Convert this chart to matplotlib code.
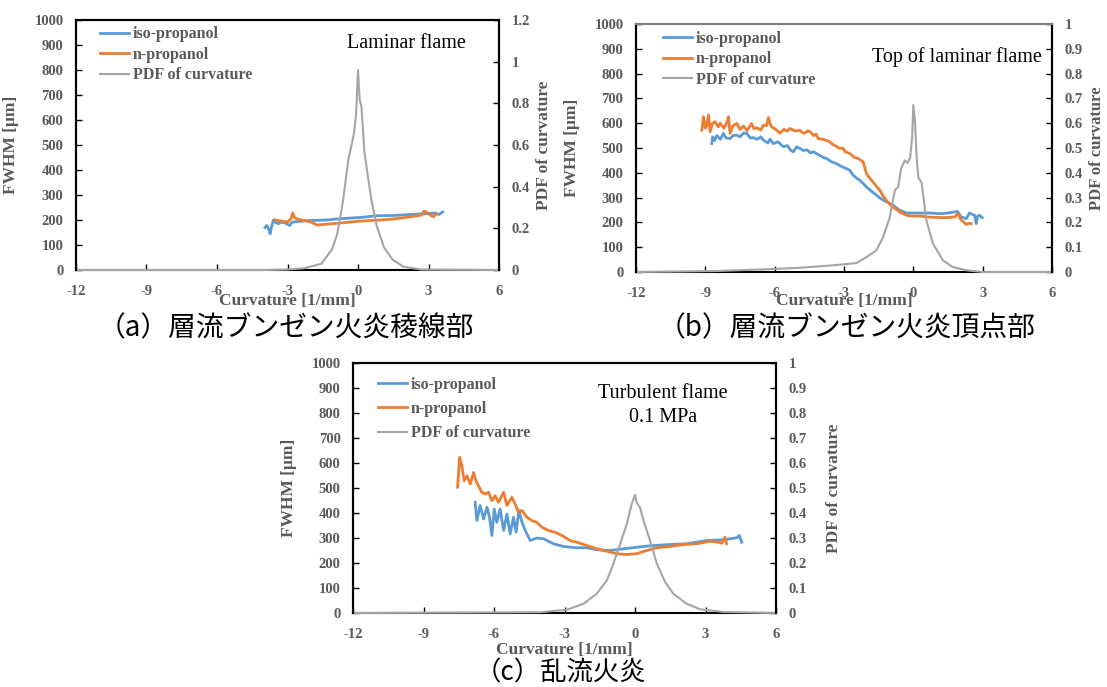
import matplotlib
matplotlib.use('Agg')
import matplotlib.pyplot as plt
from matplotlib.ticker import FuncFormatter

plt.rcParams['axes.unicode_minus'] = False

BLUE = '#5B9BD5'
ORANGE = '#ED7D31'
GRAY = '#A5A5A5'
TXT = '#595959'
SERIF = 'Liberation Serif'
JP = 'Noto Sans CJK JP'

# ---- (a) 層流ブンゼン火炎稜線部 ----
a_iso_x = [-3.96, -3.88, -3.80, -3.74, -3.66, -3.60, -3.50, -3.39, -3.25, -3.10, -3.03, -2.90,
           -2.82, -2.75, -2.47, -2.0, -1.33, -0.8, 0.09, 0.8, 1.50, 2.2, 2.92, 3.3, 3.45, 3.60]
a_iso_y = [170, 178, 165, 145, 180, 200, 190, 185, 192, 188, 184, 178, 190, 192, 195, 198, 200,
           205, 210, 217, 218, 222, 225, 228, 222, 232]
a_np_x = [-3.53, -3.4, -3.2, -3.0, -2.85, -2.78, -2.7, -2.6, -2.4, -2.2, -2.0, -1.75, -1.5, -1.0,
          -0.5, 0.0, 0.5, 1.0, 1.5, 2.0, 2.4, 2.7, 2.8, 2.9, 3.0, 3.1, 3.2, 3.35]
a_np_y = [200, 198, 195, 192, 205, 228, 210, 205, 200, 196, 192, 180, 182, 186, 190, 195, 198,
          200, 204, 210, 215, 220, 235, 232, 225, 218, 213, 225]
a_pdf_x = [-12, -4, -3.1, -2.3, -1.56, -1.1, -0.88, -0.64, -0.41, -0.18, -0.08, 0.0, 0.07, 0.15,
           0.27, 0.42, 0.58, 0.8, 1.1, 1.47, 1.93, 2.7, 6]
a_pdf_y = [0, 0, 0.002, 0.008, 0.03, 0.10, 0.175, 0.33, 0.53, 0.65, 0.75, 0.96, 0.82, 0.78, 0.57,
           0.45, 0.33, 0.21, 0.11, 0.05, 0.016, 0.002, 0]

# ---- (b) 層流ブンゼン火炎頂点部 ----
b_np_x = [-9.15, -9.08, -9.0, -8.94, -8.86, -8.79, -8.7, -8.58, -8.45, -8.36, -8.2, -8.05, -8.0,
          -7.93, -7.8, -7.64, -7.5, -7.35, -7.2, -7.0, -6.9, -6.78, -6.6, -6.49, -6.35, -6.27,
          -6.2, -6.13, -5.95, -5.77, -5.6, -5.45, -5.34, -5.2, -5.1, -4.91, -4.8, -4.7, -4.55,
          -4.47, -4.3, -4.2, -4.12, -3.9, -3.75, -3.61, -3.5, -3.4, -3.18, -3.05, -2.95, -2.75,
          -2.65, -2.55, -2.39, -2.17, -2.03, -1.9, -1.74, -1.6, -1.45, -1.3, -1.17, -1.0, -0.88,
          -0.7, -0.59, -0.3, 0.0, 0.3, 0.56, 1.0, 1.42, 1.78, 1.93, 2.07, 2.2, 2.29, 2.4, 2.5]
b_np_y = [572, 626, 580, 590, 633, 565, 598, 606, 585, 600, 580, 605, 626, 559, 590, 599, 575,
          588, 570, 599, 578, 582, 572, 592, 590, 623, 598, 585, 575, 560, 575, 568, 579, 572,
          568, 572, 562, 560, 570, 565, 550, 556, 538, 535, 530, 525, 515, 510, 498, 500, 485,
          478, 470, 462, 458, 444, 397, 380, 363, 345, 330, 305, 289, 272, 262, 250, 242, 229,
          225, 226, 222, 220, 219, 222, 235, 209, 200, 192, 196, 195]
b_iso_x = [-8.72, -8.68, -8.6, -8.5, -8.35, -8.22, -8.1, -7.93, -7.8, -7.64, -7.5, -7.35, -7.21,
           -7.05, -6.92, -6.75, -6.6, -6.49, -6.3, -6.2, -6.06, -5.85, -5.63, -5.45, -5.3, -5.19,
           -5.05, -4.91, -4.75, -4.6, -4.45, -4.33, -4.2, -4.05, -3.9, -3.76, -3.55, -3.32, -3.2,
           -3.1, -2.89, -2.75, -2.6, -2.45, -2.32, -2.15, -2.03, -1.8, -1.6, -1.4, -1.17, -0.88,
           -0.59, -0.3, 0.27, 0.7, 1.14, 1.5, 1.78, 1.9, 2.07, 2.29, 2.43, 2.55, 2.65, 2.72, 2.78,
           2.86, 2.98]
b_iso_y = [518, 545, 530, 550, 535, 559, 540, 538, 550, 552, 545, 560, 559, 540, 542, 535, 545,
           532, 520, 535, 518, 525, 505, 510, 490, 485, 505, 498, 490, 492, 480, 485, 478, 470,
           462, 458, 445, 437, 430, 425, 417, 410, 390, 378, 370, 355, 343, 325, 310, 295, 283,
           269, 249, 238, 238, 238, 235, 238, 242, 245, 222, 215, 238, 232, 229, 195, 225, 229,
           219]
b_pdf_x = [-12, -8.5, -6.35, -4.9, -3.47, -2.46, -2.03, -1.6, -1.31, -1.02, -0.8, -0.66, -0.52,
           -0.37, -0.25, -0.14, -0.05, 0.0, 0.07, 0.15, 0.22, 0.36, 0.56, 0.85, 1.28, 1.71, 2.29,
           3.0, 6]
b_pdf_y = [0, 0.004, 0.011, 0.017, 0.027, 0.036, 0.06, 0.087, 0.14, 0.22, 0.33, 0.343, 0.42,
           0.45, 0.44, 0.46, 0.545, 0.673, 0.61, 0.45, 0.38, 0.36, 0.21, 0.114, 0.047, 0.02,
           0.007, 0, 0]

# ---- (c) 乱流火炎 ----
c_np_x = [-7.55, -7.46, -7.37, -7.27, -7.15, -7.01, -6.87, -6.77, -6.66, -6.52, -6.37, -6.23,
          -6.09, -5.95, -5.81, -5.59, -5.45, -5.24, -5.10, -4.96, -4.81, -4.60, -4.39, -4.18,
          -3.96, -3.68, -3.40, -3.11, -2.76, -2.48, -2.05, -1.63, -1.20, -0.78, -0.35, 0.07,
          0.50, 0.92, 1.49, 2.06, 2.62, 3.19, 3.55, 3.69, 3.83, 3.90]
c_np_y = [503, 622, 589, 529, 549, 516, 562, 529, 509, 483, 476, 483, 449, 469, 443, 483, 430,
          463, 436, 403, 410, 383, 370, 363, 343, 330, 323, 310, 290, 283, 270, 257, 247, 237,
          234, 237, 250, 261, 266, 274, 277, 287, 283, 279, 303, 277]
c_iso_x = [-6.80, -6.73, -6.59, -6.44, -6.30, -6.19, -6.09, -5.99, -5.88, -5.74, -5.59, -5.45,
           -5.31, -5.17, -5.06, -4.94, -4.81, -4.67, -4.46, -4.18, -3.89, -3.47, -3.04, -2.48,
           -2.05, -1.63, -1.06, -0.49, 0.07, 0.78, 1.49, 2.20, 3.05, 3.76, 4.33, 4.44, 4.54]
c_iso_y = [443, 370, 430, 376, 423, 383, 310, 416, 363, 416, 330, 396, 316, 383, 323, 410, 363,
           330, 290, 300, 297, 277, 266, 261, 261, 253, 250, 257, 263, 270, 274, 277, 290, 293,
           301, 310, 283]
c_pdf_x = [-12, -4.04, -2.9, -2.19, -1.63, -1.2, -0.92, -0.63, -0.35, -0.14, 0.0, 0.07, 0.22,
           0.36, 0.64, 0.93, 1.28, 1.63, 2.2, 2.77, 3.76, 6]
c_pdf_y = [0, 0.003, 0.013, 0.037, 0.077, 0.13, 0.197, 0.277, 0.356, 0.436, 0.473, 0.443, 0.42,
           0.37, 0.29, 0.197, 0.124, 0.077, 0.037, 0.015, 0.004, 0]

x_ticks = [-12, -9, -6, -3, 0, 3, 6]
fwhm_ticks = list(range(0, 1001, 100))

fig = plt.figure(figsize=(11.07, 6.87), dpi=100)
W, H = 1107, 687


def panel(rect, iso, npr, pdf, pdf_top, pdf_step, note, leg_xy, leg_space, ylab_x, y2lab_x,
          xlab_y, top_color='black'):
    l, t, r, b = rect
    ax = fig.add_axes([l / W, 1 - b / H, (r - l) / W, (b - t) / H])
    ax.plot(iso[0], iso[1], color=BLUE, lw=2.0, label='iso-propanol', zorder=3)
    ax.plot(npr[0], npr[1], color=ORANGE, lw=2.0, label='n-propanol', zorder=3)
    ax.set_xlim(-12, 6)
    ax.set_ylim(0, 1000)
    ax.set_xticks(x_ticks)
    ax.set_yticks(fwhm_ticks)
    ax2 = ax.twinx()
    ax2.plot(pdf[0], pdf[1], color=GRAY, lw=1.5, label='PDF of curvature', clip_on=False)
    ax2.set_ylim(0, pdf_top)
    n = int(round(pdf_top / pdf_step))
    ax2.set_yticks([i * pdf_step for i in range(n + 1)])
    ax2.yaxis.set_major_formatter(FuncFormatter(lambda v, p: '%g' % round(v, 2)))
    for a in (ax, ax2):
        for s in a.spines.values():
            s.set_color('black')
            s.set_linewidth(1.5)
        a.tick_params(direction='in', length=4, width=1, color='black', labelcolor=TXT,
                      labelsize=10.5, pad=9)
        for lab in a.get_xticklabels() + a.get_yticklabels():
            lab.set_fontfamily(SERIF)
            lab.set_fontweight('bold')
    ax2.spines['bottom'].set_visible(False)
    ax2.spines['top'].set_color(top_color)
    ax.spines['top'].set_color(top_color)
    ax.tick_params(axis='x', pad=11)

    lab_kw = dict(fontfamily=SERIF, fontweight='bold', color=TXT, fontsize=12.5)
    ax.set_ylabel('FWHM [μm]', **lab_kw)
    ax2.set_ylabel('PDF of curvature', **lab_kw)
    ax.set_xlabel('Curvature [1/mm]', **lab_kw)
    ax.yaxis.set_label_coords(ylab_x, 0.5)
    ax2.yaxis.set_label_coords(y2lab_x, 0.5)
    ax.xaxis.label.set_va('center')
    ax.xaxis.set_label_coords(0.5, xlab_y)

    h1, l1 = ax.get_legend_handles_labels()
    h2, l2 = ax2.get_legend_handles_labels()
    leg = ax2.legend(h1 + h2, l1 + l2, loc='upper left', bbox_to_anchor=leg_xy, frameon=False,
                     borderpad=0, borderaxespad=0, handlelength=1.8, handletextpad=0.25,
                     labelspacing=leg_space,
                     prop=dict(family=SERIF, weight='bold', size=11.5))
    for tx in leg.get_texts():
        tx.set_color(TXT)

    for (txt, nx, ny) in note:
        ax2.text(nx, ny, txt, transform=ax2.transAxes, ha='center', va='center',
                 fontfamily=SERIF, fontsize=14.5, color='black')
    return ax, ax2


panel((76, 20, 499, 270), (a_iso_x, a_iso_y), (a_np_x, a_np_y), (a_pdf_x, a_pdf_y), 1.2, 0.2,
      [('Laminar flame', 0.78, 0.905)], (0.057, 0.975), 0.28, -0.135, 1.087, -0.125)
_, b2 = panel((636, 24, 1052, 272), (b_iso_x, b_iso_y), (b_np_x, b_np_y), (b_pdf_x, b_pdf_y),
              1.0, 0.1, [('Top of laminar flame', 0.772, 0.868)], (0.065, 0.972), 0.28, -0.135,
              1.088, -0.118, top_color='#7F7F7F')
b2.yaxis.label.set_fontsize(12)
panel((353, 363, 776, 613), (c_iso_x, c_iso_y), (c_np_x, c_np_y), (c_pdf_x, c_pdf_y), 1.0, 0.1,
      [('Turbulent flame', 0.733, 0.879), ('0.1 MPa', 0.733, 0.783)], (0.059, 0.945), 0.52,
      -0.132, 1.118, -0.15)

cap_kw = dict(fontfamily=JP, color='black', ha='center', va='center')
fig.text(286 / W, 1 - 328 / H, '（a）層流ブンゼン火炎稜線部', fontsize=20, **cap_kw)
fig.text(847 / W, 1 - 328 / H, '（b）層流ブンゼン火炎頂点部', fontsize=20, **cap_kw)
fig.text(560 / W, 1 - 673 / H, '（c）乱流火炎', fontsize=19, **cap_kw)

fig.savefig('out.png', dpi=100)
